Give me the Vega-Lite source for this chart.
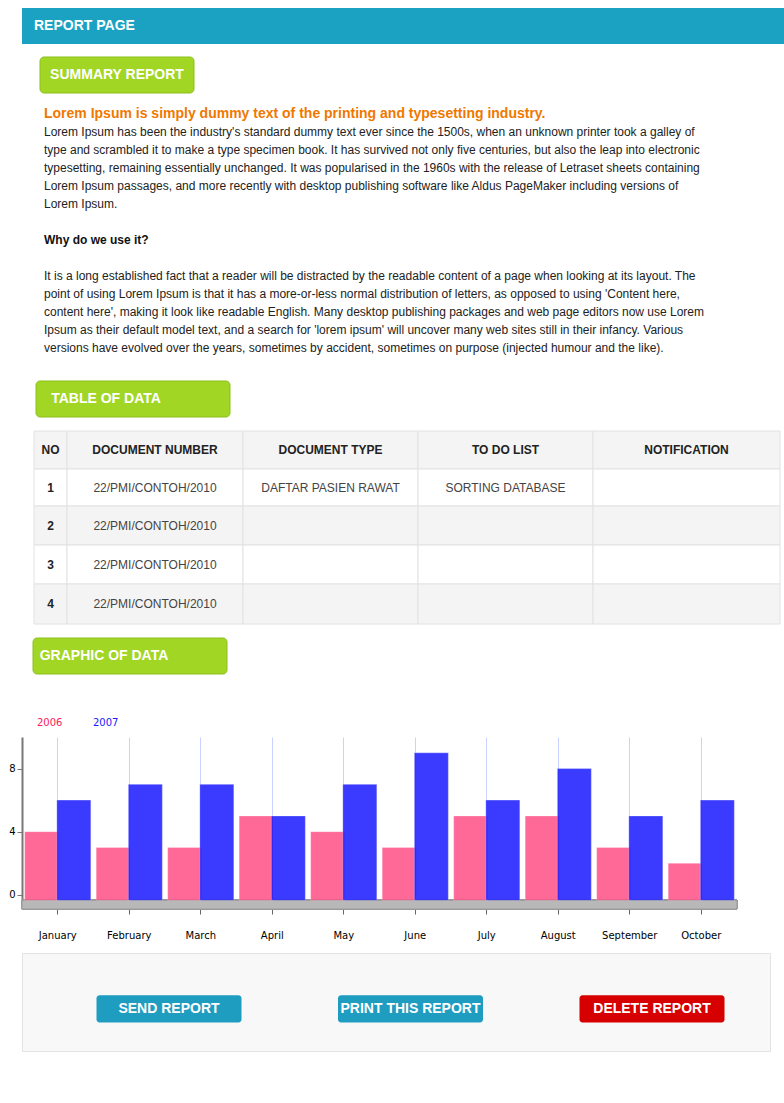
{
  "$schema": "https://vega.github.io/schema/vega-lite/v6.json",
  "background": "white",
  "padding": {"left": 8, "top": 8, "right": 8, "bottom": 8},
  "spacing": 12,
  "resolve": {"scale": {"color": "independent", "x": "independent", "y": "independent"}, "legend": {"color": "independent"}, "axis": {"x": "independent", "y": "independent"}},
  "config": {"font": "Liberation Sans", "view": {"stroke": null}},
  "vconcat": [
    {
      "width": 768, "height": 36,
      "view": {"fill": "#1ba2c3"},
      "data": {"values": [{"label": "REPORT PAGE"}]},
      "mark": {"type": "text", "align": "left", "color": "white", "fontWeight": "bold", "fontSize": 14},
      "encoding": {
        "text": {"field": "label"},
        "x": {"datum": 12, "type": "quantitative", "scale": {"domain": [0, 768]}, "axis": null}
      }
    },
    {
      "width": 768, "height": 36,
      "data": {"values": [{"label": "SUMMARY REPORT"}]},
      "encoding": {"x": {"datum": 18, "type": "quantitative", "scale": {"domain": [0, 768]}, "axis": null}},
      "layer": [
        {"mark": {"type": "rect", "fill": "#a2d624", "stroke": "#8cbf1c", "cornerRadius": 4}, "encoding": {"x2": {"datum": 172}}},
        {"mark": {"type": "text", "color": "white", "fontWeight": "bold", "fontSize": 14}, "encoding": {"x": {"datum": 95, "type": "quantitative"}, "text": {"field": "label"}}}
      ]
    },
    {
      "width": 768, "height": 262,
      "data": {"values": [
        {"line": 0, "kind": "head", "text": "Lorem Ipsum is simply dummy text of the printing and typesetting industry."},
        {"line": 1, "kind": "body", "text": "Lorem Ipsum has been the industry's standard dummy text ever since the 1500s, when an unknown printer took a galley of"},
        {"line": 2, "kind": "body", "text": "type and scrambled it to make a type specimen book. It has survived not only five centuries, but also the leap into electronic"},
        {"line": 3, "kind": "body", "text": "typesetting, remaining essentially unchanged. It was popularised in the 1960s with the release of Letraset sheets containing"},
        {"line": 4, "kind": "body", "text": "Lorem Ipsum passages, and more recently with desktop publishing software like Aldus PageMaker including versions of"},
        {"line": 5, "kind": "body", "text": "Lorem Ipsum."},
        {"line": 7, "kind": "bold", "text": "Why do we use it?"},
        {"line": 9, "kind": "body", "text": "It is a long established fact that a reader will be distracted by the readable content of a page when looking at its layout. The"},
        {"line": 10, "kind": "body", "text": "point of using Lorem Ipsum is that it has a more-or-less normal distribution of letters, as opposed to using 'Content here,"},
        {"line": 11, "kind": "body", "text": "content here', making it look like readable English. Many desktop publishing packages and web page editors now use Lorem"},
        {"line": 12, "kind": "body", "text": "Ipsum as their default model text, and a search for 'lorem ipsum' will uncover many web sites still in their infancy. Various"},
        {"line": 13, "kind": "body", "text": "versions have evolved over the years, sometimes by accident, sometimes on purpose (injected humour and the like)."}
      ]},
      "encoding": {
        "x": {"datum": 22, "type": "quantitative", "scale": {"domain": [0, 768]}, "axis": null},
        "y": {"field": "line", "type": "quantitative", "scale": {"domain": [14.12, -0.44], "nice": false, "zero": false}, "axis": null},
        "text": {"field": "text"}
      },
      "layer": [
        {"transform": [{"filter": "datum.kind == 'head'"}], "mark": {"type": "text", "align": "left", "color": "#f07800", "fontWeight": "bold", "fontSize": 14}},
        {"transform": [{"filter": "datum.kind == 'body'"}], "mark": {"type": "text", "align": "left", "color": "#222222", "fontSize": 12}},
        {"transform": [{"filter": "datum.kind == 'bold'"}], "mark": {"type": "text", "align": "left", "color": "#111111", "fontWeight": "bold", "fontSize": 12}}
      ]
    },
    {
      "width": 768, "height": 36,
      "data": {"values": [{"label": "TABLE OF DATA"}]},
      "encoding": {"x": {"datum": 14, "type": "quantitative", "scale": {"domain": [0, 768]}, "axis": null}},
      "layer": [
        {"mark": {"type": "rect", "fill": "#a2d624", "stroke": "#8cbf1c", "cornerRadius": 4}, "encoding": {"x2": {"datum": 208}}},
        {"mark": {"type": "text", "color": "white", "fontWeight": "bold", "fontSize": 14}, "encoding": {"x": {"datum": 84, "type": "quantitative"}, "text": {"field": "label"}}}
      ]
    },
    {
      "width": 768, "height": 194,
      "data": {"values": [
        {"row": 0, "col": 0, "text": "NO"}, {"row": 0, "col": 1, "text": "DOCUMENT NUMBER"}, {"row": 0, "col": 2, "text": "DOCUMENT TYPE"}, {"row": 0, "col": 3, "text": "TO DO LIST"}, {"row": 0, "col": 4, "text": "NOTIFICATION"},
        {"row": 1, "col": 0, "text": "1"}, {"row": 1, "col": 1, "text": "22/PMI/CONTOH/2010"}, {"row": 1, "col": 2, "text": "DAFTAR PASIEN RAWAT"}, {"row": 1, "col": 3, "text": "SORTING  DATABASE"}, {"row": 1, "col": 4, "text": ""},
        {"row": 2, "col": 0, "text": "2"}, {"row": 2, "col": 1, "text": "22/PMI/CONTOH/2010"}, {"row": 2, "col": 2, "text": ""}, {"row": 2, "col": 3, "text": ""}, {"row": 2, "col": 4, "text": ""},
        {"row": 3, "col": 0, "text": "3"}, {"row": 3, "col": 1, "text": "22/PMI/CONTOH/2010"}, {"row": 3, "col": 2, "text": ""}, {"row": 3, "col": 3, "text": ""}, {"row": 3, "col": 4, "text": ""},
        {"row": 4, "col": 0, "text": "4"}, {"row": 4, "col": 1, "text": "22/PMI/CONTOH/2010"}, {"row": 4, "col": 2, "text": ""}, {"row": 4, "col": 3, "text": ""}, {"row": 4, "col": 4, "text": ""}
      ]},
      "transform": [
        {"calculate": "datum.col + 1", "as": "colEnd"},
        {"calculate": "datum.row + 1", "as": "rowEnd"},
        {"calculate": "datum.col + 0.5", "as": "colMid"},
        {"calculate": "datum.row + 0.5", "as": "rowMid"}
      ],
      "layer": [
        {
          "mark": {"type": "rect", "stroke": "#e2e2e2", "strokeWidth": 1},
          "encoding": {
            "x": {"field": "col", "type": "quantitative", "scale": {"domain": [0, 1, 2, 3, 4, 5], "range": [12, 45, 221, 396, 571, 758]}, "axis": null},
            "x2": {"field": "colEnd"},
            "y": {"field": "row", "type": "quantitative", "scale": {"domain": [0, 1, 2, 3, 4, 5], "range": [1, 39, 76, 115, 154, 194]}, "axis": null},
            "y2": {"field": "rowEnd"},
            "fill": {"condition": {"test": "datum.row == 0 || datum.row == 2 || datum.row == 4", "value": "#f4f4f4"}, "value": "#ffffff"}
          }
        },
        {
          "transform": [{"filter": "datum.row == 0 || datum.col == 0"}],
          "mark": {"type": "text", "fontWeight": "bold", "fontSize": 12, "color": "#222222"},
          "encoding": {
            "x": {"field": "colMid", "type": "quantitative"},
            "y": {"field": "rowMid", "type": "quantitative"},
            "text": {"field": "text"}
          }
        },
        {
          "transform": [{"filter": "datum.row > 0 && datum.col > 0"}],
          "mark": {"type": "text", "fontSize": 12, "color": "#444444"},
          "encoding": {
            "x": {"field": "colMid", "type": "quantitative"},
            "y": {"field": "rowMid", "type": "quantitative"},
            "text": {"field": "text"}
          }
        }
      ]
    },
    {
      "width": 768, "height": 36,
      "data": {"values": [{"label": "GRAPHIC OF DATA"}]},
      "encoding": {"x": {"datum": 11, "type": "quantitative", "scale": {"domain": [0, 768]}, "axis": null}},
      "layer": [
        {"mark": {"type": "rect", "fill": "#a2d624", "stroke": "#8cbf1c", "cornerRadius": 4}, "encoding": {"x2": {"datum": 205}}},
        {"mark": {"type": "text", "color": "white", "fontWeight": "bold", "fontSize": 14}, "encoding": {"x": {"datum": 82, "type": "quantitative"}, "text": {"field": "label"}}}
      ]
    },
    {
      "width": 715, "height": 172,
      "title": {"text": " ", "fontSize": 26},
      "data": {"values": [
        {"month": "January", "year": "2006", "value": 4}, {"month": "January", "year": "2007", "value": 6},
        {"month": "February", "year": "2006", "value": 3}, {"month": "February", "year": "2007", "value": 7},
        {"month": "March", "year": "2006", "value": 3}, {"month": "March", "year": "2007", "value": 7},
        {"month": "April", "year": "2006", "value": 5}, {"month": "April", "year": "2007", "value": 5},
        {"month": "May", "year": "2006", "value": 4}, {"month": "May", "year": "2007", "value": 7},
        {"month": "June", "year": "2006", "value": 3}, {"month": "June", "year": "2007", "value": 9},
        {"month": "July", "year": "2006", "value": 5}, {"month": "July", "year": "2007", "value": 6},
        {"month": "August", "year": "2006", "value": 5}, {"month": "August", "year": "2007", "value": 8},
        {"month": "September", "year": "2006", "value": 3}, {"month": "September", "year": "2007", "value": 5},
        {"month": "October", "year": "2006", "value": 2}, {"month": "October", "year": "2007", "value": 6}
      ]},
      "layer": [
        {
          "mark": {"type": "rect", "fill": "#b8b8b8", "stroke": "#9a9a9a"},
          "encoding": {"y": {"datum": -0.35, "type": "quantitative"}, "y2": {"datum": -0.9}}
        },
        {
          "mark": {"type": "bar", "opacity": 0.85, "width": 34, "stroke": "#ffffff", "strokeOpacity": 0.3},
          "encoding": {
            "x": {"field": "month", "type": "nominal", "sort": null, "title": null,
              "scale": {"paddingInner": 0.1, "paddingOuter": 0.05},
              "axis": {"labelAngle": 0, "labelFontSize": 10, "labelFont": "DejaVu Sans", "grid": true, "gridColor": "#c7d2ff", "domain": false, "tickColor": "#666", "labelPadding": 16}},
            "xOffset": {"field": "year", "type": "nominal"},
            "y": {"field": "value", "type": "quantitative", "title": null,
              "scale": {"domain": [-0.9, 10], "nice": false},
              "axis": {"values": [0, 2, 4, 6, 8, 10], "labelFontSize": 10, "labelFont": "DejaVu Sans", "gridColor": "#c7d2ff", "domainColor": "#777", "domainWidth": 2, "tickColor": "#777"}},
            "y2": {"datum": -0.35},
            "color": {"field": "year", "type": "nominal",
              "scale": {"domain": ["2006", "2007"], "range": ["#ff4f86", "#1a1aff"]},
              "legend": {"orient": "none", "legendX": 0, "legendY": -20, "direction": "horizontal", "title": null, "symbolType": "stroke", "symbolStrokeWidth": 3, "symbolSize": 60, "labelFontSize": 10, "labelFont": "DejaVu Sans", "labelColor": {"expr": "datum.label == '2006' ? '#ff2060' : '#1a1aff'"}}}
          }
        }
      ]
    },
    {
      "width": 748, "height": 98,
      "view": {"fill": "#f8f8f8", "stroke": "#e3e3e3"},
      "data": {"values": [
        {"button": "SEND REPORT", "kind": "blue"},
        {"button": "PRINT THIS REPORT", "kind": "blue"},
        {"button": "DELETE REPORT", "kind": "red"}
      ]},
      "encoding": {
        "x": {"field": "button", "type": "nominal", "sort": null, "scale": {"type": "point", "range": [147, 630], "padding": 0}, "axis": null}
      },
      "layer": [
        {
          "mark": {"type": "rect", "width": 145, "cornerRadius": 3},
          "encoding": {
            "y": {"datum": 0.57, "type": "quantitative", "scale": {"domain": [0, 1]}, "axis": null},
            "y2": {"datum": 0.29},
            "color": {"field": "kind", "type": "nominal", "scale": {"domain": ["blue", "red"], "range": ["#1e9dc0", "#d60000"]}, "legend": null}
          }
        },
        {
          "mark": {"type": "text", "color": "white", "fontWeight": "bold", "fontSize": 14},
          "encoding": {"y": {"datum": 0.43, "type": "quantitative"}, "text": {"field": "button"}}
        }
      ]
    }
  ]
}
